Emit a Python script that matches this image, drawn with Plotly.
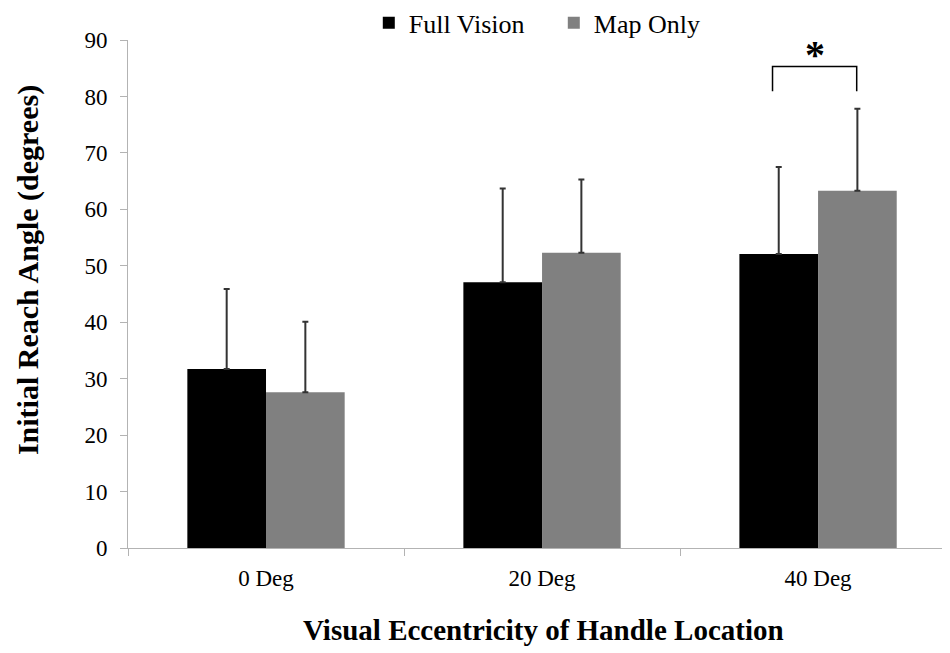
import plotly.graph_objects as go

categories = ["0 Deg", "20 Deg", "40 Deg"]
full_vision = [31.7, 47.1, 52.1]
full_vision_err = [14.2, 16.6, 15.4]
map_only = [27.6, 52.3, 63.3]
map_only_err = [12.5, 13.0, 14.5]
sig_bracket_top = 85.3
sig_bracket_legs = 80.9
sig_star_y = 83.1

x_title = "Visual Eccentricity of Handle Location"
y_title = "Initial Reach Angle (degrees)"

FONT = "Liberation Serif"
BARGAP = 0.43

fig = go.Figure()
fig.add_trace(go.Bar(
    name="Full Vision", x=categories, y=full_vision,
    marker=dict(color="#000000", line=dict(width=0)),
    error_y=dict(type="data", array=full_vision_err, arrayminus=[0]*3, symmetric=False,
                 color="#333333", thickness=2, width=3),
))
fig.add_trace(go.Bar(
    name="Map Only", x=categories, y=map_only,
    marker=dict(color="#808080", line=dict(width=0)),
    error_y=dict(type="data", array=map_only_err, arrayminus=[0]*3, symmetric=False,
                 color="#333333", thickness=2, width=3),
))

# significance bracket over 40 Deg
gi = 2
xl = gi - 0.165
xr = gi + 0.14
fig.add_shape(type="path",
              path=f"M {xl},{sig_bracket_legs} L {xl},{sig_bracket_top} L {xr},{sig_bracket_top} L {xr},{sig_bracket_legs}",
              xref="x", yref="y", line=dict(color="black", width=1.5))
fig.add_annotation(x=(xl + xr) / 2, y=sig_star_y, xref="x", yref="y", text="<b>*</b>",
                   showarrow=False, yanchor="bottom", font=dict(family=FONT, size=40, color="black"))

# axis titles
fig.add_annotation(text=f"<b>{y_title}</b>", xref="paper", yref="paper", x=-0.1217, y=0.547,
                   xanchor="center", yanchor="middle", textangle=-90, showarrow=False,
                   font=dict(family=FONT, size=30, color="black"))
fig.add_annotation(text=f"<b>{x_title}</b>", xref="paper", yref="paper", x=0.5055, y=-0.161,
                   xanchor="center", yanchor="middle", showarrow=False,
                   font=dict(family=FONT, size=29, color="black"))

fig.update_layout(
    width=942, height=645,
    margin=dict(l=120, r=0, t=32, b=105, autoexpand=False),
    paper_bgcolor="white", plot_bgcolor="white",
    barmode="group", bargap=BARGAP, bargroupgap=0,
    font=dict(family=FONT, color="black"),
    showlegend=True,
    legend=dict(orientation="h", x=0.518, xanchor="center", y=1.034, yanchor="middle",
                font=dict(family=FONT, size=26), itemwidth=30, entrywidth=140,
                traceorder="normal", bgcolor="rgba(0,0,0,0)"),
    xaxis=dict(
        range=[-0.5, 2.478], showline=True, linecolor="#b3b3b3", linewidth=1,
        ticks="outside", tickson="boundaries", ticklen=7, tickcolor="#b3b3b3",
        tickfont=dict(family=FONT, size=23), ticklabelstandoff=9,
        showgrid=False, zeroline=False,
    ),
    yaxis=dict(
        range=[0, 90], dtick=10, showline=True, linecolor="#b3b3b3", linewidth=1,
        ticks="outside", ticklen=7, tickcolor="#b3b3b3", showgrid=False, zeroline=False,
        tickfont=dict(family=FONT, size=23), ticklabelstandoff=8,
    ),
)

fig.write_html("out.html")
